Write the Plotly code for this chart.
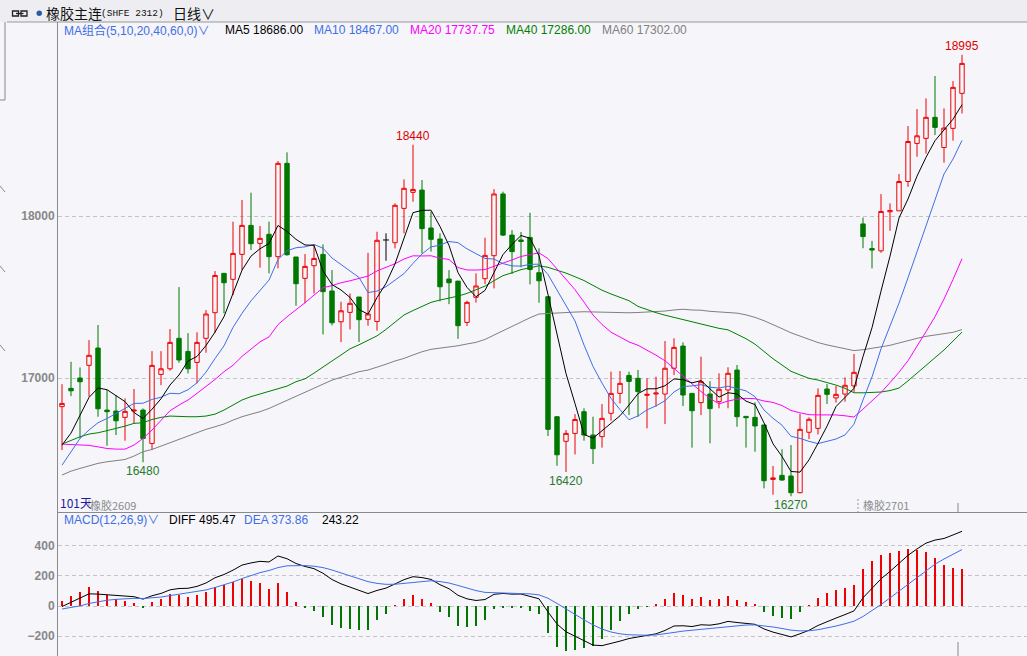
import numpy as np
import pandas as pd
import plotly.graph_objects as go

# 101 daily candles of 橡胶主连 (SHFE 2312)
days = list(range(1, 102))

opens = [16823, 16936, 17000, 17078, 17185, 16802, 16796, 16757, 16796, 16802,
         16596, 17022, 17057, 17245, 17164, 17096, 17245, 17403, 17646, 17609,
         17763, 17942, 17831, 17887, 17749, 18325, 17747, 17615, 17693, 17763,
         17537, 17347, 17405, 17500, 17362, 17349, 17852, 17835, 18047, 18146,
         18160, 17926, 17858, 17611, 17598, 17343, 17498, 17613, 17755, 18136,
         17882, 17852, 17868, 17650, 17502, 16761, 16609, 16658, 16792, 16648,
         16638, 16782, 16905, 17016, 16998, 16893, 16901, 16901, 17060, 17197,
         16905, 16848, 16901, 16854, 16926, 17049, 16763, 16757, 16710, 16374,
         16399, 16395, 16292, 16665, 16689, 16932, 16877, 16901, 16951, 17951,
         17799, 17785, 18026, 18032, 18213, 18448, 18479, 18609, 18423, 18541,
         18757]
highs = [16962, 17100, 17065, 17234, 17327, 16926, 16895, 16874, 16932, 16812,
         17166, 17166, 17302, 17561, 17277, 17282, 17419, 17660, 17646, 17965,
         18099, 18144, 17938, 17965, 18339, 18393, 17747, 17765, 17827, 17825,
         17666, 17471, 17522, 17500, 17773, 17903, 17893, 18078, 18226, 18440,
         18222, 18027, 17893, 17666, 17598, 17477, 17646, 17866, 18166, 18150,
         17913, 17901, 18020, 17800, 17502, 16765, 16679, 16777, 16813, 16761,
         16839, 17039, 17043, 17039, 17049, 16998, 17008, 17228, 17245, 17220,
         16905, 17132, 16981, 17029, 17066, 17080, 16763, 16850, 16710, 16457,
         16560, 16586, 16778, 16757, 16936, 16963, 16951, 17004, 17148, 17990,
         17846, 18135, 18078, 18259, 18555, 18660, 18726, 18864, 18664, 18833,
         18995]
lows = [16555, 16888, 16627, 16884, 16761, 16582, 16648, 16613, 16720, 16480,
        16555, 16956, 17045, 17094, 17028, 16967, 17156, 17279, 17399, 17512,
        17666, 17790, 17681, 17646, 17677, 17755, 17446, 17461, 17522, 17269,
        17325, 17222, 17300, 17222, 17323, 17292, 17724, 17800, 17893, 18088,
        17769, 17780, 17473, 17456, 17242, 17321, 17465, 17580, 17553, 17876,
        17642, 17683, 17578, 17465, 16642, 16458, 16420, 16528, 16613, 16469,
        16570, 16736, 16843, 16771, 16761, 16689, 16823, 16716, 17018, 16827,
        16570, 16771, 16597, 16813, 16813, 16699, 16570, 16545, 16319, 16280,
        16366, 16270, 16288, 16623, 16652, 16840, 16848, 16854, 16914, 17801,
        17677, 17773, 17909, 18032, 18180, 18366, 18386, 18500, 18329, 18465,
        18633]
closes = [16843, 16921, 16977, 17140, 16810, 16792, 16736, 16794, 16802, 16627,
          17078, 17057, 17220, 17111, 17057, 17220, 17395, 17633, 17588, 17769,
          17942, 17829, 17862, 17749, 18325, 17761, 17582, 17689, 17738, 17533,
          17341, 17415, 17461, 17360, 17395, 17850, 17852, 18066, 18171, 18164,
          17922, 17856, 17563, 17588, 17323, 17467, 17568, 17757, 18136, 17882,
          17780, 17843, 17670, 17600, 16683, 16526, 16658, 16744, 16648, 16564,
          16751, 16905, 16967, 16979, 16916, 16899, 16907, 17060, 17189, 16895,
          16798, 16977, 16811, 16930, 17029, 16761, 16755, 16704, 16366, 16383,
          16370, 16292, 16683, 16745, 16893, 16899, 16899, 16955, 17035, 17873,
          17790, 18028, 18034, 18213, 18460, 18495, 18609, 18547, 18543, 18794,
          18942]

# MA values for the days whose window starts before day 1
ma5_head = [16586, 16660, 16770, 16880]
ma10_head = [16462, 16545, 16627, 16679, 16724, 16750, 16781, 16812, 16843]
ma20_head = [16592, 16588, 16586, 16584, 16575, 16565, 16561, 16561, 16586, 16627,
             16679, 16740, 16798, 16833, 16864, 16905, 16946, 16991, 17039]
ma40_head = [16592, 16617, 16637, 16654, 16662, 16675, 16687, 16703, 16720, 16724,
             16744, 16757, 16765, 16761, 16761, 16761, 16765, 16777, 16802, 16833,
             16864, 16885, 16901, 16915, 16930, 16950, 16977, 16995, 17030, 17070,
             17105, 17142, 17180, 17205, 17234, 17260, 17300, 17345, 17389]
ma60_head = [16401, 16425, 16442, 16458, 16473, 16483, 16489, 16497, 16518, 16545,
             16559, 16580, 16600, 16621, 16641, 16662, 16683, 16699, 16716, 16740,
             16761, 16777, 16792, 16812, 16837, 16860, 16884, 16909, 16936, 16962,
             16987, 17004, 17022, 17039, 17049, 17065, 17085, 17105, 17121, 17142,
             17162, 17177, 17183, 17193, 17199, 17210, 17220, 17238, 17265, 17296,
             17323, 17347, 17372, 17395, 17399, 17401, 17403, 17407, 17409]

# MACD state the day before the first candle (estimated from the chart)
ema12_start, ema26_start, dea_start = 16540, 16570, -24

high_mark_days = [40, 101]
low_mark_days = [10, 57, 82]

# ---- indicators
s = pd.Series(closes, dtype=float)
mas = {}
for n, head in [(5, ma5_head), (10, ma10_head), (20, ma20_head), (40, ma40_head), (60, ma60_head)]:
    m = s.rolling(n).mean()
    m.iloc[:len(head)] = head
    mas[n] = m

e12 = pd.Series([ema12_start] + closes, dtype=float).ewm(span=12, adjust=False).mean().iloc[1:]
e26 = pd.Series([ema26_start] + closes, dtype=float).ewm(span=26, adjust=False).mean().iloc[1:]
diff = (e12 - e26).reset_index(drop=True)
dea = pd.Series([dea_start] + list(diff), dtype=float).ewm(span=9, adjust=False).mean().iloc[1:].reset_index(drop=True)
macd = 2 * (diff - dea)

# ---- geometry (pixels of the 1027x656 page)
W, H = 1027, 656
ML, MT = 58, 22
PW, PH = W - ML, H - MT
SPLIT_PX = 512


def px(x):
    return (x - ML) / PW


def py(y):
    return (H - y) / PH


k = 1000 / 162            # price units per pixel
price_top = 18000 + (216 - MT) * k
price_bot = 18000 - (SPLIT_PX - 216) * k
k2 = 200 / 30.1
macd_top = (606 - SPLIT_PX) * k2
macd_bot = -(H - 606) * k2
x_left = 1 - (62 - ML) / 9
x_right = x_left + PW / 9
split = py(SPLIT_PX)

BG = "#f5f5fa"
RED = "#f00000"
GREEN = "#007800"
BLUE = "#3f6fe6"
AXIS = "#888888"
FONT = "Liberation Sans, Noto Sans CJK SC, sans-serif"
CJK = "Noto Sans CJK SC, sans-serif"

o = np.array(opens, float)
h = np.array(highs, float)
l = np.array(lows, float)
c = np.array(closes, float)
doji = o == c

fig = go.Figure()
fig.add_trace(go.Candlestick(
    x=days,
    open=np.where(doji, np.nan, o), high=np.where(doji, np.nan, h),
    low=np.where(doji, np.nan, l), close=np.where(doji, np.nan, c),
    increasing=dict(line=dict(color=RED, width=1), fillcolor=BG),
    decreasing=dict(line=dict(color=GREEN, width=1), fillcolor=GREEN),
    whiskerwidth=0, hoverinfo="skip", xaxis="x", yaxis="y",
))

# flat candles in black
dx, dy = [], []
for d, oo, hh, ll in zip(days, o, h, l):
    if oo == c[d - 1]:
        dx += [d, d, None, d - 0.33, d + 0.33, None]
        dy += [hh, ll, None, oo, oo, None]
fig.add_trace(go.Scatter(x=dx, y=dy, mode="lines", line=dict(color="black", width=1),
                         hoverinfo="skip", xaxis="x", yaxis="y"))

ma_colors = {5: "black", 10: BLUE, 20: "#ff00ff", 40: "#008000", 60: "#808080"}
for n in [60, 40, 20, 10, 5]:
    fig.add_trace(go.Scatter(x=days, y=mas[n], mode="lines",
                             line=dict(color=ma_colors[n], width=1),
                             hoverinfo="skip", xaxis="x", yaxis="y"))

fig.add_trace(go.Bar(x=days, y=macd, width=0.18,
                     marker=dict(color=[RED if v >= 0 else GREEN for v in macd], line=dict(width=0)),
                     hoverinfo="skip", xaxis="x2", yaxis="y2"))
fig.add_trace(go.Scatter(x=days, y=diff, mode="lines", line=dict(color="black", width=1),
                         hoverinfo="skip", xaxis="x2", yaxis="y2"))
fig.add_trace(go.Scatter(x=days, y=dea, mode="lines", line=dict(color=BLUE, width=1),
                         hoverinfo="skip", xaxis="x2", yaxis="y2"))

ann = []


def label(x, y, text, color, size=12, family=FONT, anchor="left"):
    ann.append(dict(xref="paper", yref="paper", x=px(x), y=py(y), text=text,
                    xanchor=anchor, yanchor="middle", showarrow=False,
                    font=dict(color=color, size=size, family=family)))


# header
label(44, 13, "橡胶主连", "#111111", 14, CJK)
label(99, 13, "(SHFE 2312)", "#111111", 9.5, "Liberation Mono, monospace")
label(171, 13, "日线∨", "#111111", 14, CJK)

# MA legend
label(62, 30, "MA组合(5,10,20,40,60,0)∨", BLUE)
label(223, 30, "MA5 18686.00", "black")
label(312, 30, "MA10 18467.00", BLUE)
label(408, 30, "MA20 17737.75", "#ff00ff")
label(504, 30, "MA40 17286.00", "#008000")
label(600, 30, "MA60 17302.00", "#808080")

# MACD legend
label(62, 520, "MACD(12,26,9)∨", BLUE)
label(167, 520, "DIFF 495.47", "black")
label(242, 520, "DEA 373.86", BLUE)
label(320, 520, "243.22", "black")

label(58, 502, "101天", "#1c1c9c", 12, CJK)
label(88, 505, "橡胶2609", "#8c8c8c", 11, CJK)
label(861, 505, "橡胶2701", "#8c8c8c", 11, CJK)

for d in high_mark_days:
    ann.append(dict(xref="x", yref="y", x=d, y=highs[d - 1], text=str(highs[d - 1]),
                    xanchor="center", yanchor="bottom", yshift=0, showarrow=False,
                    font=dict(color="#e00000", size=12, family=FONT)))
for d in low_mark_days:
    ann.append(dict(xref="x", yref="y", x=d, y=lows[d - 1], text=str(lows[d - 1]),
                    xanchor="center", yanchor="top", yshift=0, showarrow=False,
                    font=dict(color="#2a7a2a", size=12, family=FONT)))

shapes = [
    dict(type="rect", xref="paper", yref="paper", x0=px(0), x1=px(W), y0=py(MT), y1=py(0),
         fillcolor="#eeeef2", line=dict(width=0), layer="below"),
    dict(type="line", xref="paper", yref="paper", x0=px(7), x1=px(W), y0=py(MT), y1=py(MT),
         line=dict(color="#9a9a9a", width=1)),
    dict(type="rect", xref="paper", yref="paper", x0=px(12.5), x1=px(18.5), y0=py(16), y1=py(11),
         line=dict(color="#222222", width=1.3)),
    dict(type="rect", xref="paper", yref="paper", x0=px(21), x1=px(27), y0=py(16), y1=py(11),
         line=dict(color="#222222", width=1.3)),
    dict(type="line", xref="paper", yref="paper", x0=px(16), x1=px(23.5), y0=py(13.5), y1=py(13.5),
         line=dict(color="#222222", width=1.3)),
    dict(type="circle", xref="paper", yref="paper", x0=px(36.5), x1=px(42), y0=py(16), y1=py(10.5),
         fillcolor="#2c5aa8", line=dict(width=0)),
    dict(type="line", xref="paper", yref="paper", x0=px(5), x1=px(5), y0=py(MT), y1=py(100),
         line=dict(color="#888888", width=1)),
    dict(type="line", xref="paper", yref="paper", x0=px(0), x1=px(5), y0=py(100), y1=py(100),
         line=dict(color="#888888", width=1)),
    dict(type="line", xref="paper", yref="paper", x0=px(858), x1=px(858), y0=py(499), y1=py(SPLIT_PX),
         line=dict(color="#999999", width=1, dash="2px,2px")),
    dict(type="line", xref="paper", yref="paper", x0=px(89), x1=px(89), y0=py(500), y1=py(506),
         line=dict(color="#999999", width=1)),
    dict(type="line", xref="paper", yref="paper", x0=px(958), x1=px(958), y0=py(503), y1=py(SPLIT_PX),
         line=dict(color="#888888", width=1)),
    dict(type="line", xref="paper", yref="paper", x0=px(958), x1=px(958), y0=py(642), y1=py(H),
         line=dict(color="#888888", width=1)),
]
for y0 in [186, 266, 345]:
    shapes.append(dict(type="line", xref="paper", yref="paper", x0=px(0), x1=px(5),
                       y0=py(y0), y1=py(y0 + 6), line=dict(color="#888888", width=1)))

yfont = dict(color=AXIS, size=12, family=FONT, weight="bold")
grid = dict(showgrid=True, gridcolor="#c4c4c4", gridwidth=1, griddash="4px,3px",
            zeroline=False, showline=True, linecolor="#8a8a8a", linewidth=1,
            ticks="", tickfont=yfont, tickformat="d")

fig.update_layout(
    width=W, height=H,
    margin=dict(l=ML, r=0, t=MT, b=0),
    paper_bgcolor=BG, plot_bgcolor=BG,
    showlegend=False,
    font=dict(family=FONT),
    xaxis=dict(domain=[0, 1], range=[x_left, x_right], anchor="y", showticklabels=False,
               showgrid=False, zeroline=False, showline=True, linecolor="#8a8a8a",
               ticks="", rangeslider=dict(visible=False)),
    yaxis=dict(domain=[split, 1], range=[price_bot, price_top], anchor="x",
               tickvals=[17000, 18000], **grid),
    xaxis2=dict(domain=[0, 1], range=[x_left, x_right], anchor="y2", matches="x",
                showticklabels=False, showgrid=False, zeroline=False, ticks=""),
    yaxis2=dict(domain=[0, split], range=[macd_bot, macd_top], anchor="x2",
                tickvals=[-200, 0, 200, 400], **grid),
    annotations=ann,
    shapes=shapes,
    bargap=0,
)

fig.write_html("out.html", config={"displayModeBar": False},
               post_script="document.body.style.margin='0px';")
